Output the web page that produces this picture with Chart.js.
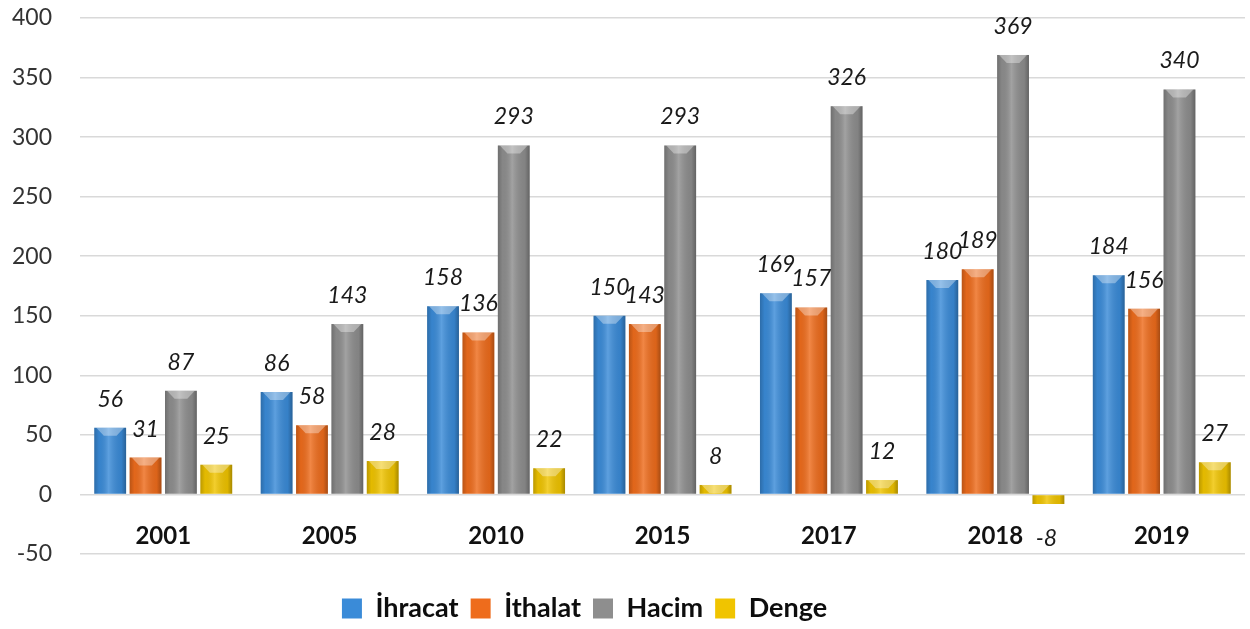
<!DOCTYPE html>
<html>
<head>
<meta charset="utf-8">
<script src="https://cdn.jsdelivr.net/npm/chart.js@4.4.1/dist/chart.umd.min.js"></script>
<style>
  html, body { margin: 0; padding: 0; background: #fff; }
  #wrap { width: 1250px; height: 629px; position: relative; }
</style>
</head>
<body>
<div id="wrap"><canvas id="chart"></canvas></div>
<script>
// --- data ---
const years = ['2001', '2005', '2010', '2015', '2017', '2018', '2019'];
const ihracat = [56, 86, 158, 150, 169, 180, 184];
const ithalat = [31, 58, 136, 143, 157, 189, 156];
const hacim = [87, 143, 293, 293, 326, 369, 340];
const denge = [25, 28, 22, 8, 12, -8, 27];
const seriesNames = ['İhracat', 'İthalat', 'Hacim', 'Denge'];
const yTicks = [-50, 0, 50, 100, 150, 200, 250, 300, 350, 400];

const colors = ['#3a8bd8', '#ee6c1c', '#8e8e8e', '#f0c400'];

// shade bars so they look a bit rounded, like the original
const barShade = {
    id: 'barShade',
    afterDatasetsDraw(chart) {
        const ctx = chart.ctx;
        chart.data.datasets.forEach((ds, i) => {
            chart.getDatasetMeta(i).data.forEach(el => {
                const left = el.x - el.width / 2;
                const top = Math.min(el.y, el.base);
                const h = Math.abs(el.base - el.y);
                const g = ctx.createLinearGradient(left, 0, left + el.width, 0);
                g.addColorStop(0, 'rgba(0,0,0,0.22)');
                g.addColorStop(0.15, 'rgba(0,0,0,0.05)');
                g.addColorStop(0.45, 'rgba(255,255,255,0.18)');
                g.addColorStop(0.85, 'rgba(0,0,0,0.08)');
                g.addColorStop(1, 'rgba(0,0,0,0.3)');
                ctx.save();
                ctx.fillStyle = g;
                ctx.fillRect(left, top, el.width, h);
                // light cap on top
                if (h > 8 && el.y < el.base) {
                    ctx.fillStyle = 'rgba(255,255,255,0.35)';
                    ctx.beginPath();
                    ctx.moveTo(left + 2, top);
                    ctx.lineTo(left + el.width - 2, top);
                    ctx.lineTo(el.x + el.width * 0.2, top + 8);
                    ctx.lineTo(el.x - el.width * 0.2, top + 8);
                    ctx.closePath();
                    ctx.fill();
                }
                ctx.restore();
            });
        });
    }
};

// value labels above (or below) each bar, and the year labels just under the zero line
const valueLabels = {
    id: 'valueLabels',
    afterDatasetsDraw(chart) {
        const ctx = chart.ctx;
        const xs = chart.scales.x;
        const zeroY = chart.scales.y.getPixelForValue(0);
        ctx.save();
        ctx.textAlign = 'center';
        ctx.textBaseline = 'alphabetic';

        ctx.font = 'bold 24px Lato';
        ctx.fillStyle = '#111';
        years.forEach((yr, j) => {
            ctx.fillText(yr, xs.getPixelForValue(j), zeroY + 50);
        });

        ctx.font = 'italic 23px Lato';
        ctx.fillStyle = '#1a1a1a';
        chart.data.datasets.forEach((ds, i) => {
            chart.getDatasetMeta(i).data.forEach((el, j) => {
                const v = ds.data[j];
                if (v >= 0) {
                    ctx.fillText(v, el.x, el.y - 21);
                } else {
                    ctx.fillText(v, el.x - 2, el.y + 42);
                }
            });
        });
        ctx.restore();
    }
};

// the legend in the original sits a little left of centre
const legendShift = {
    id: 'legendShift',
    afterLayout(chart) {
        chart.legend.left -= 30;
        chart.legend.right -= 30;
    }
};

const seriesData = [ihracat, ithalat, hacim, denge];

new Chart(document.getElementById('chart'), {
    type: 'bar',
    data: {
        labels: years,
        datasets: seriesNames.map((name, i) => ({
            label: name,
            data: seriesData[i],
            backgroundColor: colors[i],
            borderWidth: 0,
            categoryPercentage: 0.85,
            barPercentage: 0.9
        }))
    },
    options: {
        responsive: true,
        maintainAspectRatio: false,
        animation: false,
        layout: { padding: { top: 18, left: -16, right: 5, bottom: -3 } },
        plugins: {
            tooltip: { enabled: false },
            legend: {
                position: 'bottom',
                labels: {
                    boxWidth: 20,
                    boxHeight: 20,
                    padding: 12,
                    color: '#0d0d0d',
                    font: { family: 'Lato', size: 27, weight: 'bold' }
                }
            }
        },
        scales: {
            // year labels are drawn at the zero line by the plugin; this axis only keeps a gap above the legend
            x: {
                position: 'bottom',
                grid: { display: false },
                border: { display: false },
                ticks: { display: false },
                afterFit: s => { s.height = 29; }
            },
            y: {
                min: yTicks[0],
                max: yTicks[yTicks.length - 1],
                afterBuildTicks: axis => { axis.ticks = yTicks.map(v => ({ value: v })); },
                // tick padding would otherwise also push the plot top down
                afterFit: axis => { axis.paddingTop = 0; },
                grid: { color: '#d9d9d9', lineWidth: 1.5, drawTicks: false },
                border: { display: false },
                ticks: {
                    padding: 28,
                    color: '#333',
                    font: { family: 'Lato', size: 23 }
                }
            }
        }
    },
    plugins: [barShade, valueLabels, legendShift]
});
</script>
</body>
</html>
